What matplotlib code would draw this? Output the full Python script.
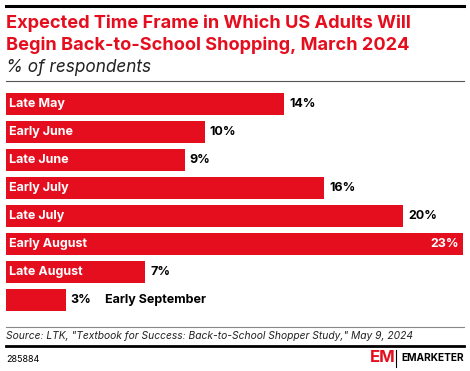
import matplotlib.pyplot as plt
from matplotlib.lines import Line2D

categories = ["Late May", "Early June", "Late June", "Early July",
              "Late July", "Early August", "Late August", "Early September"]
values = [14, 10, 9, 16, 20, 23, 7, 3]

RED = "#e50e1f"
W, H = 470, 371
plt.rcParams['font.family'] = ['Inter', 'DejaVu Sans']

fig = plt.figure(figsize=(W / 100, H / 100), dpi=100)

def fx(px):
    return px / W

def fy(py):
    return 1 - py / H

# header rules and titles
fig.add_artist(Line2D([fx(6), fx(464)], [fy(6), fy(6)], color="black", lw=2.2))
fig.text(fx(6), fy(23), "Expected Time Frame in Which US Adults Will",
         color=RED, fontsize=13.1, fontweight="bold", va="center")
fig.text(fx(6), fy(45), "Begin Back-to-School Shopping, March 2024",
         color=RED, fontsize=13.1, fontweight="bold", va="center")
fig.text(fx(6), fy(67), "% of respondents", color="#222222", fontsize=12.4,
         style="italic", va="center")
fig.add_artist(Line2D([fx(6), fx(464)], [fy(81), fy(81)], color="#555555", lw=0.8))

# bars
ax = fig.add_axes([fx(6), fy(314), fx(458), (314 - 90) / H])
y = range(len(categories))
ax.barh(y, values, height=0.79, color=RED)
ax.set_xlim(0, 23.05)
ax.set_ylim(len(categories) - 0.5, -0.5)
ax.axis("off")

for i, (cat, v) in enumerate(zip(categories, values)):
    if v >= 22:
        ax.text(v - 0.2, i, f"{v}%", color="white", fontsize=9,
                fontweight="bold", ha="right", va="center")
    else:
        ax.text(v + 0.25, i, f"{v}%", color="black", fontsize=9,
                fontweight="bold", ha="left", va="center")
    if v >= 5:
        ax.text(0.15, i, cat, color="white", fontsize=9,
                fontweight="bold", ha="left", va="center")
    else:
        ax.text(v + 2.0, i, cat, color="black", fontsize=9,
                fontweight="bold", ha="left", va="center")

# footer
fig.add_artist(Line2D([fx(6), fx(464)], [fy(327), fy(327)], color="#888888", lw=0.8))
fig.text(fx(6), fy(336), 'Source: LTK, "Textbook for Success: Back-to-School Shopper Study," May 9, 2024',
         color="#222222", fontsize=7.4, style="italic", va="center")
fig.add_artist(Line2D([fx(6), fx(464)], [fy(346), fy(346)], color="black", lw=2))
fig.text(fx(6), fy(359), "285884", color="black", fontsize=6.5, va="center")
fig.text(fx(370), fy(358), "EM", color=RED, fontsize=12, fontweight="bold",
         va="center", ha="left")
fig.add_artist(Line2D([fx(396), fx(396)], [fy(350), fy(367)], color="black", lw=0.8))
fig.text(fx(401), fy(358), "EMARKETER", color="black", fontsize=7.3,
         fontweight="bold", va="center", ha="left")

fig.savefig("out.png", dpi=100)
